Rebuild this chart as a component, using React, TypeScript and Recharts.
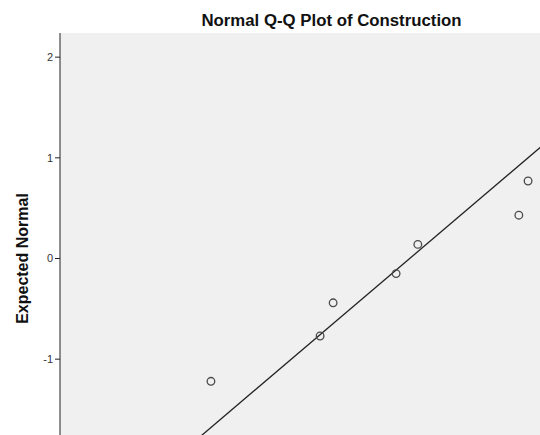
import {
  ScatterChart,
  Scatter,
  XAxis,
  YAxis,
  CartesianGrid,
  ReferenceLine,
} from "recharts";

// observed values (x) and their expected normal scores (y)
const observed = [27.8, 47.9, 50.3, 61.9, 65.9, 84.5, 86.2];
const expectedNormal = [-1.22, -0.77, -0.44, -0.15, 0.14, 0.43, 0.77];
const yTicks = [-1, 0, 1, 2];

// fitted reference line: y = (x - mean) / sd
const fitMean = 64.4;
const fitSd = 21.8;
const fitXRange = [0, 100];

const points = observed.map((x, i) => ({ x, y: expectedNormal[i] }));
const fitSegment = fitXRange.map((x) => ({ x, y: (x - fitMean) / fitSd }));

const font = "'Liberation Sans', Arial, sans-serif";

const Ring = (props: any) => (
  <circle
    cx={props.cx}
    cy={props.cy}
    r={3.8}
    fill="none"
    stroke="#4a4a4a"
    strokeWidth={1.3}
  />
);

const YLabel = (props: any) => {
  const vb = props.viewBox || { x: 0, y: 0, width: 60, height: 0 };
  const x = vb.x + 22;
  const y = vb.y + vb.height / 2;
  return (
    <text
      x={x}
      y={y}
      transform={`rotate(-90, ${x}, ${y})`}
      textAnchor="middle"
      dominantBaseline="central"
      fontFamily={font}
      fontSize={16}
      fontWeight="bold"
      fill="#111"
    >
      Expected Normal
    </text>
  );
};

export default function App() {
  return (
    <div
      style={{
        position: "fixed",
        left: 0,
        top: 0,
        width: 540,
        height: 435,
        overflow: "hidden",
        background: "#fff",
        fontFamily: font,
      }}
    >
      <div
        style={{
          position: "absolute",
          left: 60,
          width: 543,
          top: 11,
          textAlign: "center",
          fontSize: 16.8,
          lineHeight: "20px",
          fontWeight: "bold",
          color: "#111",
        }}
      >
        Normal Q-Q Plot of Construction
      </div>
      <ScatterChart
        width={623}
        height={544}
        margin={{ top: 33, right: 20, bottom: 20, left: 0 }}
        style={{ position: "absolute", left: 0, top: 0 }}
      >
        <CartesianGrid
          horizontal={false}
          vertical={false}
          fill="#f0f0f0"
          stroke="none"
        />
        <XAxis
          type="number"
          dataKey="x"
          domain={[0, 100]}
          height={40}
          stroke="#222"
          tick={false}
        />
        <XAxis
          xAxisId="top"
          orientation="top"
          type="number"
          domain={[0, 100]}
          height={0}
          tick={false}
          tickLine={false}
          axisLine={{ stroke: "#8a8a8a", strokeWidth: 2 }}
        />
        <YAxis
          type="number"
          dataKey="y"
          domain={[-2.24, 2.24]}
          ticks={yTicks}
          width={60}
          stroke="#222"
          tickSize={5}
          tickMargin={2}
          tick={{ fontSize: 11, fill: "#333", fontFamily: font }}
          label={<YLabel />}
        />
        <ReferenceLine
          segment={fitSegment}
          stroke="#222"
          strokeWidth={1.3}
          ifOverflow="hidden"
        />
        <Scatter data={points} shape={<Ring />} isAnimationActive={false} />
      </ScatterChart>
    </div>
  );
}
